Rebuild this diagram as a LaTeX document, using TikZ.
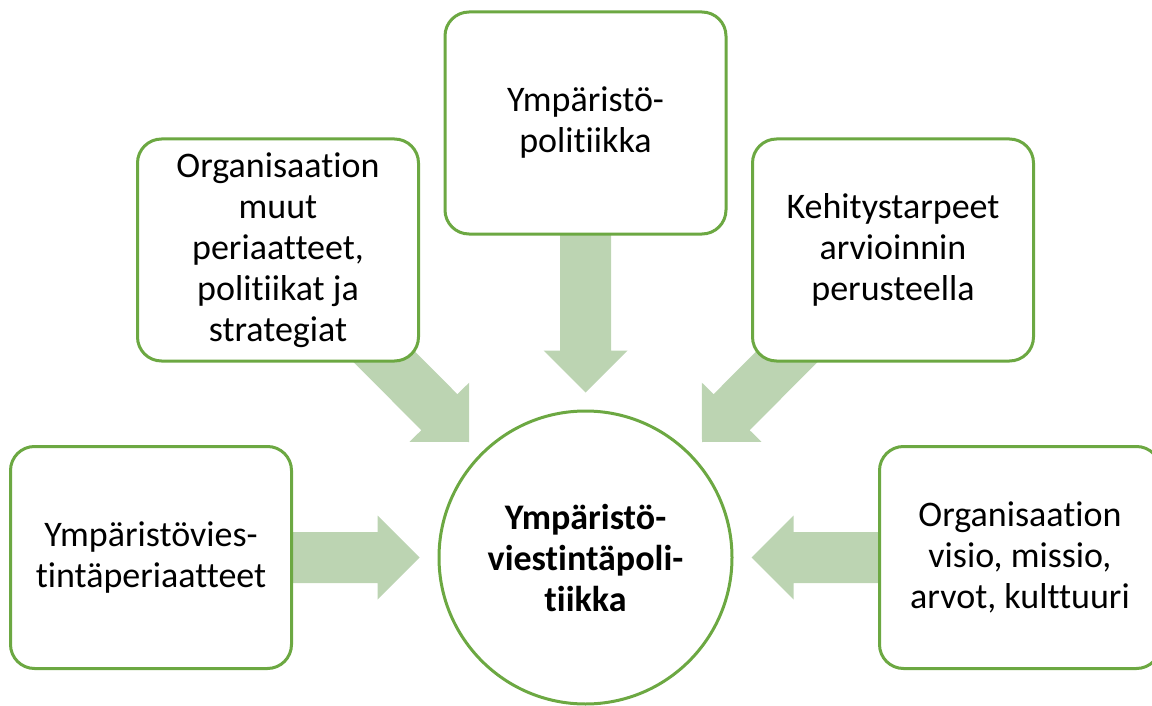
\documentclass[tikz,border=0pt]{standalone}
\usepackage{fontspec}
\setmainfont[RawFeature={-liga;-clig;-dlig;-calt}]{Carlito}
\usetikzlibrary{calc,backgrounds}
\definecolor{leafline}{RGB}{108,168,66}
\definecolor{leaffill}{RGB}{188,212,178}
\tikzset{
  card/.style={draw=leafline, line width=3pt, fill=white, rounded corners=24pt,
    minimum width=281pt, minimum height=222pt, inner sep=0pt, align=center,
    font=\fontsize{36}{41}\selectfont},
  hub/.style={circle, draw=leafline, line width=3pt, fill=white,
    minimum size=293pt, inner sep=0pt, align=center,
    font=\fontsize{36}{41}\selectfont\bfseries},
  flow/.style={fill=leaffill}
}
% block arrow from #1 (tail, hidden under a card) to #2 (tip)
\newcommand\blockarrow[2]{%
  \coordinate (hb) at ($(#2)!42pt!(#1)$);
  \fill[flow] ($(#1)!25.5pt!90:(#2)$) -- ($(hb)!25.5pt!-90:(#1)$)
    -- ($(hb)!42pt!-90:(#1)$) -- (#2) -- ($(hb)!42pt!90:(#1)$)
    -- ($(hb)!25.5pt!90:(#1)$) -- ($(#1)!25.5pt!-90:(#2)$) -- cycle;
}
\begin{document}
\begin{tikzpicture}[x=1pt,y=-1pt]
  \clip (0,0) rectangle (1152,706);

  \node[card] (policy) at (585.5,123) {Ympäristö-\\politiikka};
  \node[card] (other) at (278,250) {Organisaation\\muut\\periaatteet,\\politiikat ja\\strategiat};
  \node[card] (needs) at (893,250) {Kehitystarpeet\\arvioinnin\\perusteella};
  \node[card] (principles) at (151,557.5) {Ympäristövies-\\tintäperiaatteet};
  \node[card] (values) at (1020,557.5) {Organisaation\\visio, missio,\\arvot, kulttuuri};
  \node[hub] (core) at (585.5,557.5) {Ympäristö-\\viestintäpoli-\\tiikka};

  \coordinate (tipN) at ($(core.north)+(0,-17)$);
  \coordinate (tipW) at ($(core.west)+(-18,0)$);
  \coordinate (tipE) at ($(core.east)+(18,0)$);
  \coordinate (tipNW) at ($(core.center)+(-116.5,-115.5)$);
  \coordinate (tipNE) at ($(core.center)+(116.5,-115.5)$);

  \begin{pgfonlayer}{background}
    \blockarrow{policy.center}{tipN}
    \blockarrow{principles.center}{tipW}
    \blockarrow{values.center}{tipE}
    \blockarrow{other.center}{tipNW}
    \blockarrow{needs.center}{tipNE}
  \end{pgfonlayer}
\end{tikzpicture}
\end{document}
